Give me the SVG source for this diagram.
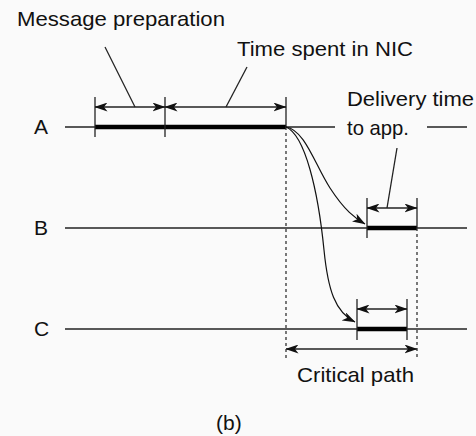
<svg xmlns="http://www.w3.org/2000/svg" width="476" height="436" viewBox="0 0 476 436">
<defs>
<marker id="ah" viewBox="0 0 13 9" refX="12.5" refY="4.5" markerWidth="13" markerHeight="9" markerUnits="userSpaceOnUse" orient="auto-start-reverse">
<path d="M0,0 L13,4.5 L0,9 L3.5,4.5 Z" fill="#111"/>
</marker>
</defs>
<style>
text{font-family:"Liberation Sans",Arial,sans-serif;font-size:21px;fill:#111}
.ln{stroke:#222;stroke-width:1.3;fill:none}
.bar{stroke:#000;stroke-width:4.5;fill:none}
.tk{stroke:#222;stroke-width:1.3}
.dim{stroke:#222;stroke-width:1.3;fill:none;marker-start:url(#ah);marker-end:url(#ah)}
.dash{stroke:#333;stroke-width:1.3;stroke-dasharray:3,3;fill:none}
.cv{stroke:#111;stroke-width:1.2;fill:none;marker-end:url(#ah)}
</style>
<rect width="476" height="436" fill="#fafafa"/>
<g id="labels">
<text x="17" y="26" textLength="208" lengthAdjust="spacingAndGlyphs">Message preparation</text>
<text x="237" y="56" textLength="176" lengthAdjust="spacingAndGlyphs">Time spent in NIC</text>
<text x="347" y="106" textLength="127" lengthAdjust="spacingAndGlyphs">Delivery time</text>
<text x="347" y="135" textLength="62" lengthAdjust="spacingAndGlyphs">to app.</text>
<text x="297" y="382" textLength="117" lengthAdjust="spacingAndGlyphs">Critical path</text>
<text x="216" y="430">(b)</text>
</g>
<g id="nodeA">
<text x="34" y="134">A</text>
<line class="ln" x1="65" y1="127" x2="335" y2="127"/>
<line class="ln" x1="427" y1="127" x2="467" y2="127"/>
<line class="bar" x1="95" y1="127" x2="286" y2="127"/>
<line class="tk" x1="95" y1="97" x2="95" y2="137"/>
<line class="tk" x1="165" y1="97" x2="165" y2="137"/>
<line class="tk" x1="286" y1="97" x2="286" y2="127"/>
</g>
<g id="nodeB">
<text x="34" y="235">B</text>
<line class="ln" x1="65" y1="228" x2="467" y2="228"/>
<line class="bar" x1="367" y1="228" x2="417" y2="228"/>
<line class="tk" x1="367" y1="198" x2="367" y2="238"/>
<line class="tk" x1="417" y1="198" x2="417" y2="228"/>
</g>
<g id="nodeC">
<text x="34" y="336">C</text>
<line class="ln" x1="65" y1="329" x2="467" y2="329"/>
<line class="bar" x1="357" y1="329" x2="407" y2="329"/>
<line class="tk" x1="357" y1="299" x2="357" y2="340"/>
<line class="tk" x1="407" y1="299" x2="407" y2="340"/>
</g>
<g id="connectors">
<line class="dim" x1="95" y1="107" x2="165" y2="107"/>
<line class="dim" x1="165" y1="107" x2="286" y2="107"/>
<line class="dim" x1="367" y1="208" x2="417" y2="208"/>
<line class="dim" x1="357" y1="309" x2="407" y2="309"/>
<line class="dim" x1="286" y1="349" x2="417" y2="349"/>
<line class="ln" x1="105" y1="47" x2="135" y2="107"/>
<line class="ln" x1="247" y1="67" x2="226" y2="107"/>
<line class="ln" x1="397" y1="148" x2="387" y2="208"/>
<line class="dash" x1="286" y1="127" x2="286" y2="360"/>
<line class="dash" x1="417" y1="228" x2="417" y2="360"/>
<path class="cv" d="M286,127 C305,130 315,165 330,188 S355,218 365,224"/>
<path class="cv" d="M286,127 C305,135 318,190 324,250 C328,290 335,312 355,322"/>
</g>
</svg>
